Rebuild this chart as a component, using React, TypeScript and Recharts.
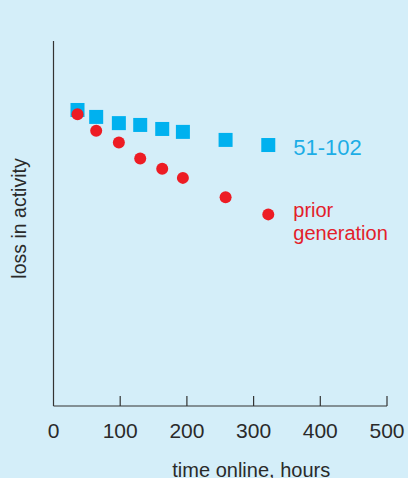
import { ScatterChart, Scatter, XAxis, YAxis, Label, LabelList } from "recharts";

// time online (hours), shared by both series
const hours = [36, 64, 98, 130, 163, 194, 258, 322];
// loss in activity (0-100 arbitrary scale)
const loss51 = [81.1, 79.2, 77.5, 77.0, 75.9, 75.1, 72.9, 71.5];
const lossPrior = [79.9, 75.4, 72.2, 67.8, 65.0, 62.5, 57.2, 52.5];
const xTicks = [0, 100, 200, 300, 400, 500];
const name51 = "51-102";
const namePrior = ["prior", "generation"];

const data51 = hours.map((h, i) => ({ h, v: loss51[i] }));
const dataPrior = hours.map((h, i) => ({ h, v: lossPrior[i] }));

const BLUE = "#00b1ef";
const RED = "#ed1c24";
const INK = "#2a2a2a";
const FONT = "'Liberation Sans', Arial, sans-serif";

const Square = (p: any) => (
  <rect x={p.cx - 7} y={p.cy - 7} width={14} height={14} fill={BLUE} />
);
const Dot = (p: any) => <circle cx={p.cx} cy={p.cy} r={6} fill={RED} />;

// tick mark points up into the plot, number sits below the axis
const XTick = (p: any) => (
  <g>
    {p.payload.value !== 0 && (
      <line x1={p.x} x2={p.x} y1={p.y} y2={p.y - 10} stroke="#333" strokeWidth={1.2} />
    )}
    <text x={p.x} y={p.y + 31.5} textAnchor="middle" fill={INK} fontSize={21} fontFamily={FONT}>
      {p.payload.value}
    </text>
  </g>
);

const label51 = (p: any) => {
  if (p.index !== hours.length - 1) return null;
  const cx = p.x + p.width / 2;
  const cy = p.y + p.height / 2;
  return (
    <text x={cx + 25} y={cy + 10} fill="#1cade6" fontSize={22} fontFamily={FONT}>
      {name51}
    </text>
  );
};

const labelPrior = (p: any) => {
  if (p.index !== hours.length - 1) return null;
  const cx = p.x + p.width / 2;
  const cy = p.y + p.height / 2;
  return (
    <text x={cx + 25} y={cy + 3} fill="#e3202a" fontSize={20} fontFamily={FONT}>
      {namePrior.map((t, i) => (
        <tspan key={t} x={cx + 25} dy={i === 0 ? 0 : 22.6}>
          {t}
        </tspan>
      ))}
    </text>
  );
};

export default function App() {
  return (
    <div
      style={{
        position: "absolute",
        left: 0,
        top: 0,
        width: 408,
        height: 478,
        background: "#d4eef9",
        overflow: "hidden",
      }}
    >
      <ScatterChart
        width={408}
        height={478}
        margin={{ top: 41, right: 21, left: 52.5, bottom: 0 }}
      >
        <XAxis
          type="number"
          dataKey="h"
          domain={[0, 500]}
          ticks={xTicks}
          interval={0}
          height={72}
          axisLine={{ stroke: "#333", strokeWidth: 1.2 }}
          tickLine={false}
          tickSize={0}
          tickMargin={0}
          tick={XTick}
        >
          <Label
            value="time online, hours"
            position="insideBottom"
            offset={1}
            dx={31}
            fill={INK}
            fontSize={20}
            fontFamily={FONT}
          />
        </XAxis>
        <YAxis
          type="number"
          dataKey="v"
          domain={[0, 100]}
          width={1}
          tick={false}
          tickLine={false}
          axisLine={{ stroke: "#333", strokeWidth: 1.2 }}
        >
          <Label
            value="loss in activity"
            angle={-90}
            position="center"
            dx={-34}
            dy={-5}
            fill={INK}
            fontSize={19.5}
            fontFamily={FONT}
          />
        </YAxis>
        <Scatter data={data51} shape={Square} isAnimationActive={false}>
          <LabelList dataKey="v" content={label51} />
        </Scatter>
        <Scatter data={dataPrior} shape={Dot} isAnimationActive={false}>
          <LabelList dataKey="v" content={labelPrior} />
        </Scatter>
      </ScatterChart>
    </div>
  );
}
